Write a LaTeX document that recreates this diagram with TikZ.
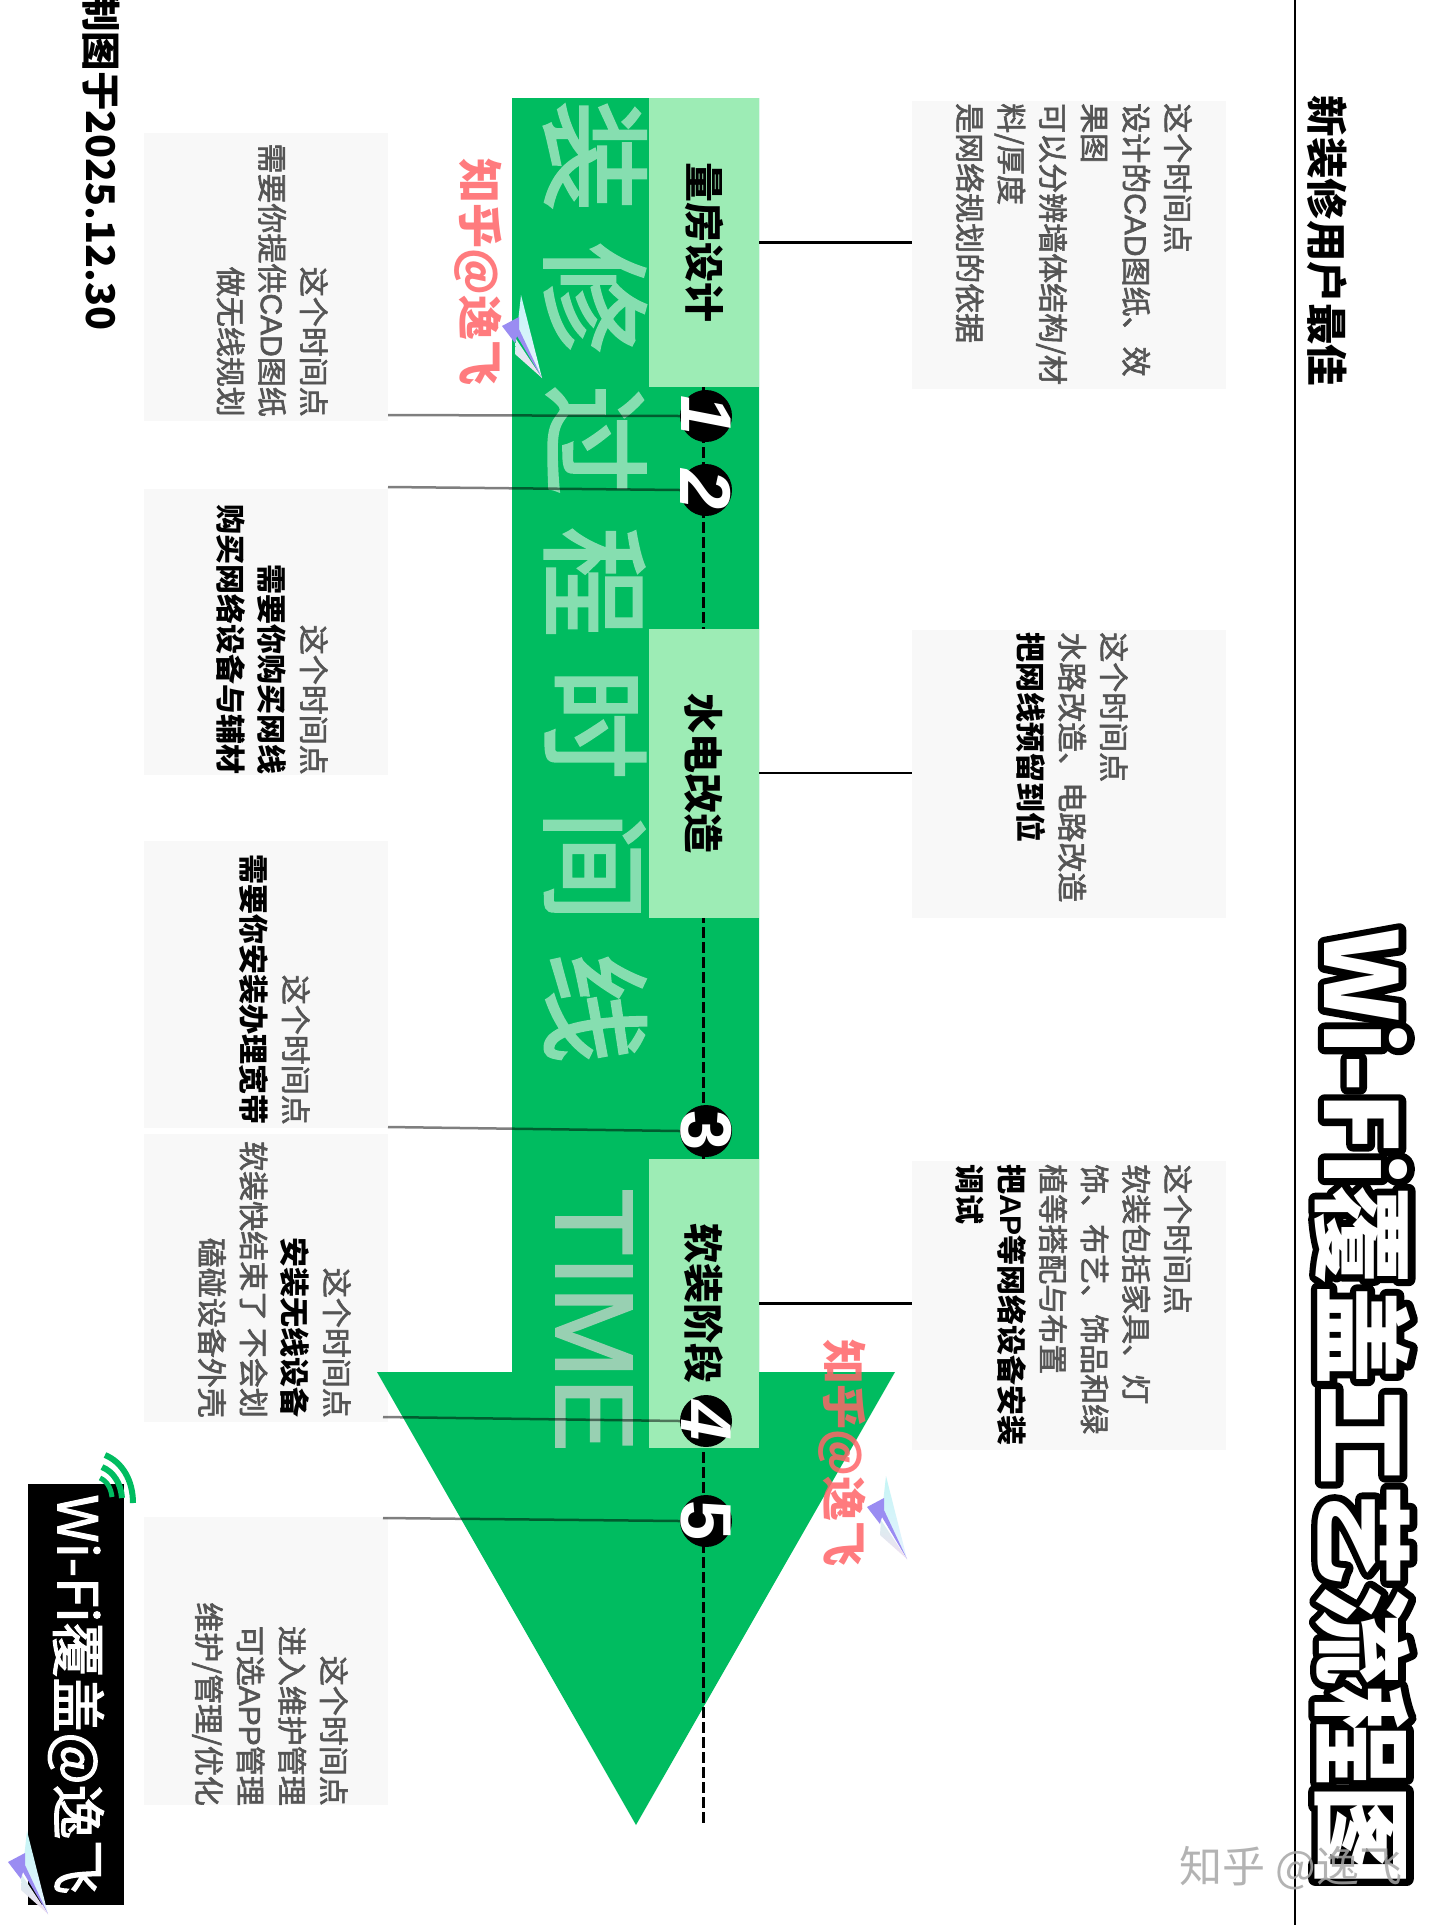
\documentclass[tikz,border=0pt]{standalone}
\usepackage{fontspec}
\setmainfont{Noto Sans CJK SC}
\newfontfamily\latinf{Liberation Sans}
\newfontfamily\timef[FakeBold=2]{Liberation Sans}
\newfontfamily\medf[FakeBold=2]{Noto Sans CJK SC}
\newfontfamily\latmed[FakeBold=2]{Liberation Sans}
\newfontfamily\markf[FakeBold=2.5]{Noto Sans CJK SC}
\definecolor{arrowgreen}{HTML}{00BC60}
\definecolor{lightgreen}{HTML}{9DECB5}
\definecolor{markgreen}{HTML}{86DEB0}
\definecolor{timegrey}{HTML}{98D0B2}
\definecolor{cardgrey}{HTML}{F8F8F8}
\definecolor{bodygrey}{HTML}{555555}
\definecolor{pinkmark}{HTML}{FF6468}
\definecolor{planetop}{HTML}{C4F5F5}
\definecolor{planemid}{HTML}{E8F2FF}
\definecolor{planewing}{HTML}{9A8CF2}
\definecolor{planelow}{HTML}{D8F0F0}
\definecolor{planepink}{HTML}{F0DDF0}
\newcommand{\gl}[1]{{\medf\color{bodygrey}#1}}
\newcommand{\kl}[1]{{\bfseries\color{black}#1}}
\newcommand{\strokedtext}[1]{\special{pdf:code 1 Tr 14 w 1 j 0 G}#1\special{pdf:code 0 Tr 1 w}}
\newcommand{\planeat}[2]{%
  \begin{scope}[shift={(#1,#2)}]
    \shade[top color=planetop,bottom color=planemid,draw=none] (19,-31)--(40,52)--(15,5)--cycle;
    \fill[color=planewing] (0,0)--(17,-9)--(17,3)--(40,52)--(15,10)--(13,17)--cycle;
    \shade[top color=planelow,bottom color=planepink,draw=none] (14,13)--(40,52)--(13,28)--cycle;
  \end{scope}}
\tikzset{
  card/.style={fill=cardgrey,draw=none,inner sep=0pt,minimum width=#1},
  cardtext/.style={rotate=-90,inner sep=0pt,font=\fontsize{30}{41.6}\selectfont},
  stagebox/.style={fill=lightgreen,draw=none,inner sep=0pt,minimum width=110pt,minimum height=289pt},
  stagelabel/.style={rotate=-90,inner sep=0pt,font=\fontsize{40}{44}\selectfont\bfseries},
  stepdot/.style={circle,fill=black,draw=none,inner sep=0pt,minimum size=52pt},
  stepnum/.style={rotate=-90,inner sep=0pt,text=white,font=\fontsize{72}{72}\selectfont\latinf\bfseries},
  leftlink/.style={draw=black,opacity=.5,line width=2.5pt},
  rightlink/.style={draw=black,line width=2.6pt},
  timeline/.style={draw=black,line width=3pt,dash pattern=on 11pt off 4pt},
  pinktext/.style={rotate=-90,inner sep=0pt,text=pinkmark,opacity=.85,font=\fontsize{45}{45}\selectfont\bfseries},
  wifiarc/.style={draw=arrowgreen,line cap=butt}
}
\begin{document}
\begin{tikzpicture}[x=1pt,y=-1pt]
\useasboundingbox (0,0) rectangle (1440,1925);
\fill[white] (0,0) rectangle (1440,1925);
% title rule
\coordinate (ruleA) at (1295,0); \coordinate (ruleB) at (1295,1925);
\draw[line width=2.5pt] (ruleA) -- (ruleB);
% cards
\node[card=244pt,minimum height=288pt] (cl1) at (266,277) {};
\node[card=244pt,minimum height=286pt] (cl2) at (266,632) {};
\node[card=244pt,minimum height=287pt] (cl3) at (266,984.5) {};
\node[card=244pt,minimum height=288pt] (cl4) at (266,1278) {};
\node[card=244pt,minimum height=288pt] (cl5) at (266,1661) {};
\node[card=314pt,minimum height=288pt] (cr1) at (1069,245) {};
\node[card=314pt,minimum height=288pt] (cr2) at (1069,774) {};
\node[card=314pt,minimum height=289pt] (cr3) at (1069,1305.5) {};
% arrow
\fill[arrowgreen] (512,98)--(759,98)--(759,1372)--(895,1372)--(636,1825)--(377,1372)--(512,1372)--cycle;
% timeline
\coordinate (axisA) at (703,387); \coordinate (axisB) at (703,1825);
\draw[timeline] (axisA) -- (axisB);
% stage boxes
\node[stagebox] (s1) at (704,242.5) {};
\node[stagebox] (s2) at (704,773) {};
\node[stagebox] (s3) at (704,1303.5) {};
\node[stagelabel] (sl1) at (s1) {量房设计};
\node[stagelabel] (sl2) at (s2) {水电改造};
\node[stagelabel] (sl3) at (s3) {软装阶段};
% watermark in shaft
\node[rotate=-90,inner sep=0pt,text=markgreen,font=\fontsize{110}{110}\selectfont\markf,anchor=center] (wm) at (595,582)
 {装\hspace{32pt}修\hspace{32pt}过\hspace{32pt}程\hspace{32pt}时\hspace{32pt}间\hspace{32pt}线};
\node[rotate=-90,inner sep=0pt,text=timegrey,font=\fontsize{110}{110}\selectfont\timef] (timew) at (594,1320) {TIME};
% step dots
\node[stepdot] (d1) at (706,416) {};
\node[stepdot] (d2) at (706,490) {};
\node[stepdot] (d3) at (706,1131) {};
\node[stepdot] (d4) at (706,1421) {};
\node[stepdot] (d5) at (706,1521) {};
\node[stepnum,font=\fontsize{72}{72}\selectfont\latinf\bfseries\itshape] at (d1) {1};
\node[stepnum,font=\fontsize{72}{72}\selectfont\latinf\bfseries\itshape] at (d2) {2};
\node[stepnum] at (d3) {3};
\node[stepnum,font=\fontsize{72}{72}\selectfont\latinf\bfseries\itshape] at (d4) {4};
\node[stepnum] at (d5) {5};
% links
\coordinate (l1) at (388,415); \coordinate (l2) at (388,487);
\coordinate (l3) at (388,1127); \coordinate (l4) at (383,1417); \coordinate (l5) at (383,1518);
\draw[leftlink] (l1) -- (d1.west);
\draw[leftlink] (l2) -- (d2.west);
\draw[leftlink] (l3) -- (d3.west);
\draw[leftlink] (l4) -- (d4.west);
\draw[leftlink] (l5) -- (d5.west);
\draw[rightlink] (s1.east) -- (s1.east -| cr1.west);
\draw[rightlink] (s2.east) -- (s2.east -| cr2.west);
\draw[rightlink] (s3.east) -- (s3.east -| cr3.west);
% card texts
\node[cardtext,anchor=north east,align=right] at (328,417) {\gl{这个时间点}\\\gl{需要你提供{\latmed CAD}图纸}\\\gl{做无线规划}};
\node[cardtext,anchor=north east,align=right] at (328,775) {\gl{这个时间点}\\\kl{需要你购买网线}\\\kl{购买网络设备与辅材}};
\node[cardtext,anchor=north east,align=right] at (310,1125) {\gl{这个时间点}\\\kl{需要你安装办理宽带}};
\node[cardtext,anchor=north east,align=right] at (351,1418) {\gl{这个时间点}\\\kl{安装无线设备}\\\gl{软装快结束了 不会划}\\\gl{磕碰设备外壳}};
\node[cardtext,anchor=north east,align=right] at (348,1806) {\gl{这个时间点}\\\gl{进入维护管理}\\\gl{可选{\latmed APP}管理}\\\gl{维护/管理/优化}};
\node[cardtext,anchor=north west,align=left] at (1192,103) {\gl{这个时间点}\\\gl{设计的{\latmed CAD}图纸、效}\\\gl{果图}\\\gl{可以分辨墙体结构/材}\\\gl{料/厚度}\\\gl{是网络规划的依据}};
\node[cardtext,anchor=north west,align=left] at (1128,632) {\gl{这个时间点}\\\gl{水路改造、电路改造}\\\kl{把网线预留到位}};
\node[cardtext,anchor=north west,align=left] at (1192,1164) {\gl{这个时间点}\\\gl{软装包括家具、灯}\\\gl{饰、布艺、饰品和绿}\\\gl{植等搭配与布置}\\\kl{把{\latinf AP}等网络设备安装}\\\kl{调试}};
% heading texts
\node[rotate=-90,inner sep=0pt,font=\fontsize{41.5}{42}\selectfont\bfseries] (sub) at (1327,241) {新装修用户最佳};
\node[rotate=-90,inner sep=0pt,font=\fontsize{100}{100}\selectfont\bfseries] (ttlb) at (1363,1407) {\strokedtext{Wi-Fi覆盖工艺流程图}};
\node[rotate=-90,inner sep=0pt,text=white,font=\fontsize{100}{100}\selectfont\bfseries] (ttlw) at (1363,1407) {Wi-Fi覆盖工艺流程图};
\node[rotate=-90,inner sep=0pt,anchor=south east,font=\fontsize{39.5}{40}\selectfont\bfseries] (made) at (83,331) {制图于2025.12.30};
% pink marks
\node[pinktext] (pk1) at (478,272) {知乎@逸飞};
\node[pinktext] (pk2) at (842,1453) {知乎@逸飞};
% badge
\node[fill=black,draw=none,inner sep=0pt,minimum width=96pt,minimum height=421pt] (badge) at (76,1694.5) {};
\node[rotate=-90,inner sep=0pt,text=white,font=\fontsize{55}{55}\selectfont\medf] (badget) at (badge) {Wi-Fi覆盖@逸飞};
\draw[wifiarc,line width=6pt] (105,1455) .. controls (122,1462) and (133,1480) .. (133,1503);
\draw[wifiarc,line width=6pt] (102,1467) .. controls (114,1472) and (121,1484) .. (122,1498);
\draw[wifiarc,line width=5pt] (100,1478) .. controls (107,1481) and (111,1488) .. (112,1497);
% planes
\planeat{502}{326}
\planeat{867}{1507}
\planeat{8}{1862}
% site watermark
\node[inner sep=0pt,text=gray!70,opacity=.85,font=\fontsize{43}{43}\selectfont] (site) at (1291,1868) {知乎 @逸飞};
\end{tikzpicture}
\end{document}
